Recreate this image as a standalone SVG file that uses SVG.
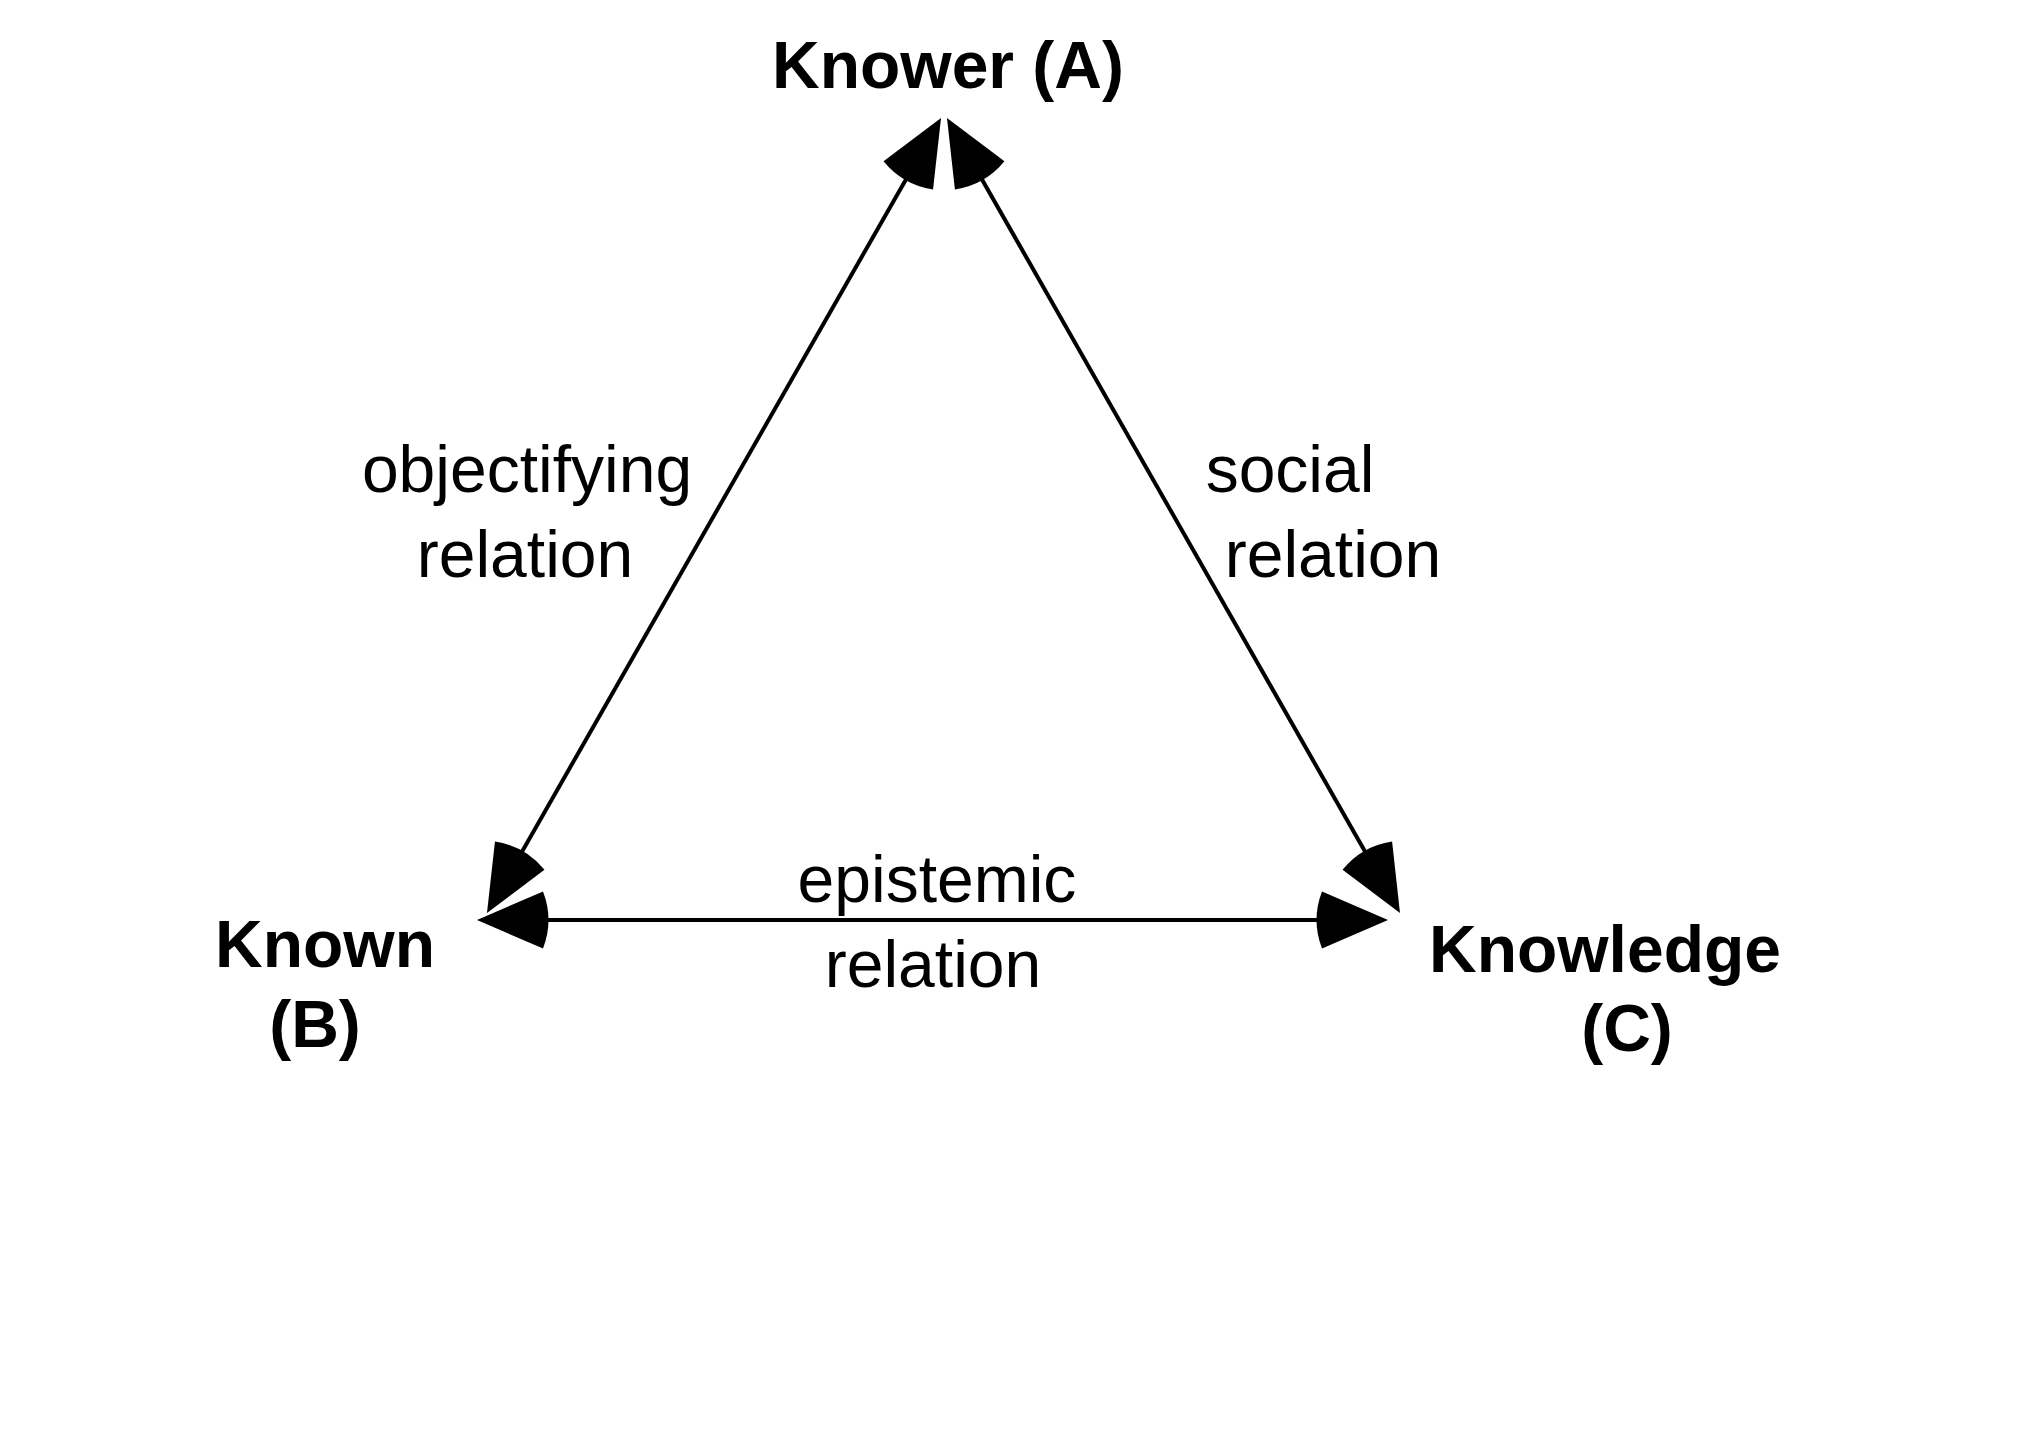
<svg xmlns="http://www.w3.org/2000/svg" width="2033" height="1433" viewBox="0 0 2033 1433">
  <style>
    .node { font-family: "Liberation Sans", Arial, Helvetica, sans-serif; font-size: 66px; font-weight: bold; fill: #000; text-anchor: middle; }
    .lbl { font-family: "Liberation Sans", Arial, Helvetica, sans-serif; font-size: 66px; fill: #000; text-anchor: middle; }
    .edge { stroke: #000; stroke-width: 4; fill: none; marker-start: url(#ah); marker-end: url(#ah); }
  </style>
  <defs>
    <marker id="ah" markerUnits="userSpaceOnUse" orient="auto-start-reverse" refX="0" refY="0" markerWidth="10" markerHeight="10" overflow="visible">
      <path d="M20,0 L-46,-28.5 Q-57,0 -46,28.5 Z" fill="#000"/>
    </marker>
  </defs>
  <rect width="2033" height="1433" fill="#fff"/>
  <g id="connectors">
    <line id="edge-AB" class="edge" x1="931.1" y1="135.4" x2="496.9" y2="895.6"/>
    <line id="edge-AC" class="edge" x1="956.9" y1="135.4" x2="1390.1" y2="895.6"/>
    <line id="edge-BC" class="edge" x1="497" y1="920" x2="1368" y2="920"/>
    <text class="lbl" x="527" y="492">objectifying</text>
    <text class="lbl" x="525" y="577">relation</text>
    <text class="lbl" x="1290" y="492">social</text>
    <text class="lbl" x="1333" y="577">relation</text>
    <text class="lbl" x="937" y="902">epistemic</text>
    <text class="lbl" x="933" y="987">relation</text>
  </g>
  <g id="node-A">
    <text class="node" x="948" y="88">Knower (A)</text>
  </g>
  <g id="node-B">
    <text class="node" x="325" y="967">Known</text>
    <text class="node" x="315" y="1047">(B)</text>
  </g>
  <g id="node-C">
    <text class="node" x="1605" y="972">Knowledge</text>
    <text class="node" x="1627" y="1051">(C)</text>
  </g>
</svg>
